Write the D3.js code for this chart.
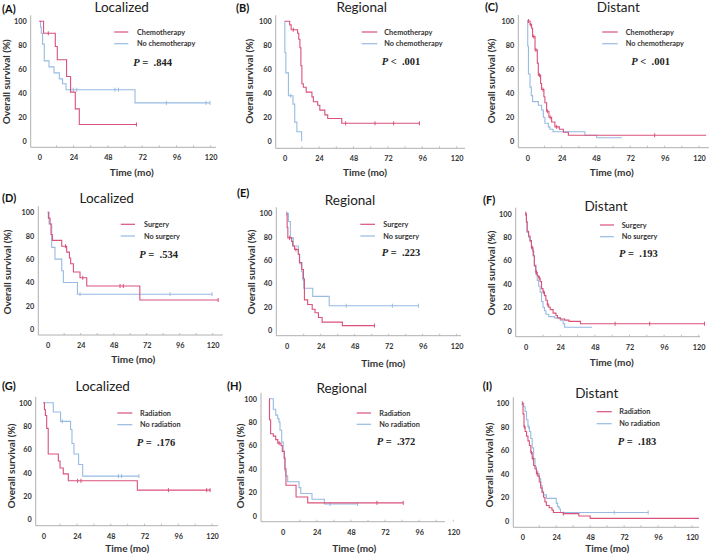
<!DOCTYPE html>
<html><head><meta charset="utf-8">
<script src="https://cdn.jsdelivr.net/npm/d3@7"></script>
<style>
body{margin:0;background:#fff;}
svg{display:block;}
text{font-family:Lato,"Open Sans",sans-serif;}
</style></head>
<body>
<svg id="chart" width="709" height="554"></svg>
<script>
// ---------- DATA ----------
const xTicks = [0, 24, 48, 72, 96, 120];
const yTicks = [0, 20, 40, 60, 80, 100];
const panelLabels = ["(A)", "(B)", "(C)", "(D)", "(E)", "(F)", "(G)", "(H)", "(I)"];
const panelTitles = ["Localized", "Regional", "Distant", "Localized", "Regional", "Distant", "Localized", "Regional", "Distant"];
const legendRed = ["Chemotherapy", "Chemotherapy", "Chemotherapy", "Surgery", "Surgery", "Surgery", "Radiation", "Radiation", "Radiation"];
const legendBlue = ["No chemotherapy", "No chemotherapy", "No chemotherapy", "No surgery", "No surgery", "No surgery", "No radiation", "No radiation", "No radiation"];
const pOps = ["=", "<", "<", "=", "=", "=", "=", "=", "="];
const pVals = [".844", ".001", ".001", ".534", ".223", ".193", ".176", ".372", ".183"];

// step points [time (mo), survival (%)], end time, censor times
const A_red = [[0,100],[3,90],[11.2,79],[12.6,68],[19.1,54],[21.9,41],[25.2,27],[28,14]];
const A_red_end = 68, A_red_cens = [6.3, 68];
const A_blue = [[0,100],[0.9,95],[1.4,90],[2.3,81],[3.5,67],[6.8,62],[10.3,57],[14,52],[16.3,48],[18.7,43],[67,32]];
const A_blue_end = 119.5, A_blue_cens = [23.8, 26.2, 53, 55.4, 89, 116.7, 119.5];

const B_red = [[0,100],[3.5,97],[4.5,93],[9,90],[9.8,85],[10.6,78],[11.3,63],[12,48],[13,45],[15,41],[19,37],[20,33],[23,30],[24.5,26],[28,22],[30,19],[39.8,15]];
const B_red_end = 94, B_red_cens = [6, 42.5, 63, 76, 94];
const B_blue = [[0,100],[0.1,74],[0.8,57],[2.6,38],[5.8,31],[7,16],[8.5,8],[11.8,0]];
const B_blue_end = 11.8, B_blue_cens = [4.2];

const C_red = [[0,100],[1.9,97],[3,94],[3.7,87],[5.4,76],[7,65],[7.7,55],[9.3,48],[10,43],[11.6,37],[12.3,32],[13.5,25],[15.1,20],[17,16],[19.3,12],[22.4,10],[25.2,7.5],[28.7,5]];
const C_red_end = 125, C_red_cens = [0.8, 2.5, 4.5, 6, 8.5, 11, 14, 16, 20.5, 89];
const C_blue = [[0,100],[0.3,79],[0.8,56],[1.9,45],[2.8,38],[3.7,33],[7.7,30],[10,26],[11.2,20],[12.3,15],[14.7,12],[15.8,10],[18,8],[40.3,5],[48.5,3]];
const C_blue_end = 66, C_blue_cens = [];

const D_red = [[0,100],[0.5,95],[1.7,90],[2.4,81],[3.4,76],[10.2,71],[13.8,66],[15.8,61],[16.7,56],[18.7,49],[23.5,44],[28.4,37],[67,25]];
const D_red_end = 124, D_red_cens = [13, 25.5, 52.6, 55, 124];
const D_blue = [[0,100],[1,90],[2.9,70],[5.3,60],[10.2,50],[11.4,40],[21.6,30]];
const D_blue_end = 119.5, D_blue_cens = [23.5, 89, 119.5];

const E_red = [[0,100],[0.3,88],[0.8,79],[3.5,76],[4.2,72],[5.5,69],[8.2,65],[9,58],[10.6,52],[11.8,44],[12.5,26],[14.8,22],[18,18],[20,15],[22.4,11],[25,7],[39.3,4]];
const E_red_end = 62, E_red_cens = [2, 6.5, 62];
const E_blue = [[0,100],[1.2,93],[2.6,79],[4.7,72],[8.2,65],[9.2,57],[10.6,50],[11.3,43],[12,36],[18.4,29],[30,21]];
const E_blue_end = 93, E_blue_cens = [0, 42, 74.6, 93];

const F_red = [[0,100],[0.5,93],[1,85],[2,81],[3,77],[4,71],[5,68],[5.5,64],[6,56],[7,50],[8,47],[9,45],[10,42],[11,36],[12,33],[13,30],[14,26],[15,22],[16,20],[17,18],[19,15],[21,13],[22,11],[24,10],[27,9],[30,8],[38,6]];
const F_red_end = 124, F_red_cens = [0, 4.5, 7.5, 9.5, 12.5, 15.5, 62, 86, 124];
const F_blue = [[0,100],[0.5,93],[1,84],[2,80],[3,76],[4,70],[5,64],[6,55],[7,48],[8,43],[9,38],[10,33],[11,25],[12,20],[13,17],[14,14],[16,12],[20,11],[24,9],[26,6],[27,3]];
const F_blue_end = 46, F_blue_cens = [];

const G_red = [[0,100],[0.8,94],[1.5,89],[2.4,78],[3.5,56],[10.7,50],[11.9,44],[14.2,39],[17.8,33],[66.9,25]];
const G_red_end = 119, G_red_cens = [24.4, 26.8, 89, 116.2, 118.6];
const G_blue = [[0,100],[7.1,92],[12.3,84],[19.4,77],[20.4,65],[21.8,56],[25.1,47],[28,37]];
const G_blue_end = 68, G_blue_cens = [13.5, 53.4, 55.7, 68];

const H_red = [[-9.6,100],[-9.3,82],[-8.5,70],[-6.6,68],[-4.9,65],[-3.5,62],[-1.2,60],[-0.3,55],[1.1,49],[1.6,40],[2.3,26],[9.4,16],[17.6,11]];
const H_red_end = 84.8, H_red_cens = [-2.5, 66.3, 84.8];
const H_blue = [[-9.6,100],[-6.6,91],[-4.9,86],[-3.5,83],[-2.6,80],[-1.9,73],[-0.7,63],[0.4,55],[1.1,50],[1.6,38],[2.1,34],[3.5,29],[11.5,24],[12.7,19],[20.6,14],[29.3,10]];
const H_blue_end = 52.7, H_blue_cens = [33.3, 52.7];

const I_red = [[0,100],[0.5,91],[1.2,80],[2,76],[3,72],[4,68],[5,64],[6,58],[7,53],[8,47],[9,44],[10,40],[11,38],[12,33],[13,28],[14,24],[15,20],[16,16],[17,13],[19,11],[21,9],[22,7],[29,6],[40,4],[48,2]];
const I_red_end = 125, I_red_cens = [0, 1.5, 6.5, 7.5, 10.5, 29];
const I_blue = [[0,100],[1,97],[2,93],[3,86],[4,80],[5,76],[6,70],[7,62],[8,53],[9,46],[10,42],[11,40],[12,36],[13,30],[14,25],[15,22],[17,19],[24,15],[25,12],[26,10],[27,7]];
const I_blue_end = 89, I_blue_cens = [4.5, 65, 89];

const series = [
  [A_red, A_red_end, A_red_cens, A_blue, A_blue_end, A_blue_cens],
  [B_red, B_red_end, B_red_cens, B_blue, B_blue_end, B_blue_cens],
  [C_red, C_red_end, C_red_cens, C_blue, C_blue_end, C_blue_cens],
  [D_red, D_red_end, D_red_cens, D_blue, D_blue_end, D_blue_cens],
  [E_red, E_red_end, E_red_cens, E_blue, E_blue_end, E_blue_cens],
  [F_red, F_red_end, F_red_cens, F_blue, F_blue_end, F_blue_cens],
  [G_red, G_red_end, G_red_cens, G_blue, G_blue_end, G_blue_cens],
  [H_red, H_red_end, H_red_cens, H_blue, H_blue_end, H_blue_cens],
  [I_red, I_red_end, I_red_cens, I_blue, I_blue_end, I_blue_cens]
];

// ---------- LAYOUT (pixels) ----------
const layout = [
  {x0:39.3,x120:210.7,y100:21.3,y0:141.3,ax:30.7,ay:147.3,aEnd:216,lab:[2,8],title:[121.7,7],leg:[114.3,128.3,32,43.7,137],p:[133.3,61.7],xt:[131.7,171.7],yt:[5.5,81.7]},
  {x0:284.7,x120:456.7,y100:21.3,y0:141.3,ax:275.7,ay:148.3,aEnd:465,lab:[236,7.5],title:[361.7,7],leg:[361.7,377.3,32,43.7,384.3],p:[381.7,61],xt:[365,171.7],yt:[249,81.3]},
  {x0:527.3,x120:699,y100:21,y0:141.3,ax:518.3,ay:147.7,aEnd:712,lab:[485,6.5],title:[618.3,7],leg:[602.3,617.7,32,43.7,625.7],p:[631.3,61],xt:[611.7,171.7],yt:[491.3,81]},
  {x0:47.7,x120:212.7,y100:212.3,y0:329.3,ax:38.3,ay:335,aEnd:222.7,lab:[2,197.3],title:[106.7,198.3],leg:[120.7,135,224.3,236,144],p:[139.3,254],xt:[133.3,359],yt:[7,272]},
  {x0:286.7,x120:456.7,y100:213.3,y0:330.3,ax:276.3,ay:335.7,aEnd:461,lab:[237,192.3],title:[350,200],leg:[360.3,375,224.3,236,383.3],p:[381.7,252.3],xt:[383.3,362.7],yt:[251,272]},
  {x0:525.7,x120:698.7,y100:213.7,y0:330.7,ax:515.7,ay:336.7,aEnd:700,lab:[483,199],title:[606,206.3],leg:[600,614,225,236.7,621.7],p:[619,252.7],xt:[611.7,362.3],yt:[491.3,273]},
  {x0:43.3,x120:212,y100:402.7,y0:519.3,ax:35.7,ay:525.7,aEnd:218,lab:[2,385.7],title:[102.7,385.7],leg:[117.3,132.3,413,424.7,140],p:[136.7,441.7],xt:[127.3,548.3],yt:[11,466]},
  {x0:282.7,x120:453.3,y100:398.7,y0:515.7,ax:261,ay:521.7,aEnd:445,lab:[227,385.5],title:[341.7,388.3],leg:[356.7,371,413,424.3,379.3],p:[376.7,441.3],xt:[354.3,547.7],yt:[240,466]},
  {x0:522.3,x120:692,y100:403.3,y0:520.7,ax:513.3,ay:527.3,aEnd:699,lab:[482.7,385],title:[596.7,392.7],leg:[596.7,611.7,411.7,423.7,619.3],p:[617.7,441],xt:[607.3,548.3],yt:[489,465]}
];

const RED = "#d9527a", BLUE = "#97bbe3", AXIS = "#b0b0b0", TXT = "#333333";
const svg = d3.select("#chart");

function stepValue(steps, t) {
  let v = steps[0][1];
  for (const s of steps) { if (s[0] <= t) v = s[1]; }
  return v;
}

layout.forEach((L, i) => {
  const g = svg.append("g");
  const x = d3.scaleLinear().domain([0, 120]).range([L.x0, L.x120]);
  const y = d3.scaleLinear().domain([0, 100]).range([L.y0, L.y100]);

  // axis lines
  g.append("line").attr("x1", L.ax).attr("x2", L.aEnd).attr("y1", L.ay).attr("y2", L.ay)
    .attr("stroke", AXIS).attr("stroke-width", 1);
  g.append("line").attr("x1", L.ax).attr("x2", L.ax).attr("y1", y(100) - 6).attr("y2", L.ay)
    .attr("stroke", AXIS).attr("stroke-width", 1);

  // minor ticks on x axis
  d3.range(12, 121, 12).forEach(t => {
    g.append("line").attr("x1", x(t)).attr("x2", x(t)).attr("y1", L.ay).attr("y2", L.ay - 2)
      .attr("stroke", AXIS).attr("stroke-width", 0.8);
  });

  const xa = g.append("g").attr("transform", `translate(0,${L.ay})`)
    .call(d3.axisBottom(x).tickValues(xTicks).tickSize(0).tickPadding(8));
  xa.select(".domain").remove();
  xa.selectAll("text").attr("font-size", 7.3).attr("font-weight", "bold").attr("fill", TXT)
    .style("font-family", "Lato, sans-serif");

  const ya = g.append("g").attr("transform", `translate(${L.ax},0)`)
    .call(d3.axisLeft(y).tickValues(yTicks).tickSize(0).tickPadding(4));
  ya.select(".domain").remove();
  ya.selectAll("text").attr("font-size", 7.3).attr("font-weight", "bold").attr("fill", TXT)
    .style("font-family", "Lato, sans-serif");

  // curves
  const [rs, rend, rc, bs, bend, bc] = series[i];
  const line = d3.line().x(d => x(d[0])).y(d => y(d[1])).curve(d3.curveStepAfter);
  const drawCurve = (steps, end, cens, color) => {
    const pts = steps.concat([[end, steps[steps.length - 1][1]]]);
    g.append("path").attr("d", line(pts)).attr("fill", "none").attr("stroke", color)
      .attr("stroke-width", 1.1);
    cens.forEach(t => {
      const v = stepValue(steps, t);
      g.append("line").attr("x1", x(t)).attr("x2", x(t)).attr("y1", y(v) - 2).attr("y2", y(v) + 2)
        .attr("stroke", color).attr("stroke-width", 1);
    });
  };
  drawCurve(bs, bend, bc, BLUE);
  drawCurve(rs, rend, rc, RED);

  // legend
  const [lx1, lx2, ly1, ly2, ltx] = L.leg;
  g.append("line").attr("x1", lx1).attr("x2", lx2).attr("y1", ly1).attr("y2", ly1).attr("stroke", RED).attr("stroke-width", 1.2);
  g.append("line").attr("x1", lx1).attr("x2", lx2).attr("y1", ly2).attr("y2", ly2).attr("stroke", BLUE).attr("stroke-width", 1.2);
  g.append("text").attr("x", ltx).attr("y", ly1).attr("dominant-baseline", "central")
    .attr("font-size", 7.3).attr("font-weight", "bold").attr("fill", TXT).text(legendRed[i]);
  g.append("text").attr("x", ltx).attr("y", ly2).attr("dominant-baseline", "central")
    .attr("font-size", 7.3).attr("font-weight", "bold").attr("fill", TXT).text(legendBlue[i]);

  // P value
  const pt = g.append("text").attr("x", L.p[0]).attr("y", L.p[1]).attr("dominant-baseline", "central")
    .attr("font-size", 10.5).attr("font-weight", "bold").attr("fill", "#222")
    .style("font-family", "'Liberation Serif', 'DejaVu Serif', serif");
  pt.append("tspan").attr("font-style", "italic").text("P");
  pt.append("tspan").attr("xml:space", "preserve").text(" " + pOps[i] + "  " + pVals[i]);

  // titles
  g.append("text").attr("x", L.title[0]).attr("y", L.title[1]).attr("text-anchor", "middle")
    .attr("dominant-baseline", "central").attr("font-size", 13.5).attr("fill", "#222").text(panelTitles[i]);
  g.append("text").attr("x", L.lab[0]).attr("y", L.lab[1]).attr("dominant-baseline", "central")
    .attr("font-size", 11).attr("font-weight", "bold").attr("fill", "#111").text(panelLabels[i]);
  g.append("text").attr("x", L.xt[0]).attr("y", L.xt[1]).attr("text-anchor", "middle")
    .attr("dominant-baseline", "central").attr("font-size", 10).attr("font-weight", "bold").attr("fill", TXT).text("Time (mo)");
  g.append("text").attr("transform", `translate(${L.yt[0]},${L.yt[1]}) rotate(-90)`).attr("text-anchor", "middle")
    .attr("dominant-baseline", "central").attr("font-size", 10).attr("font-weight", "bold").attr("fill", TXT).text("Overall survival (%)");
});
</script>
</body></html>
